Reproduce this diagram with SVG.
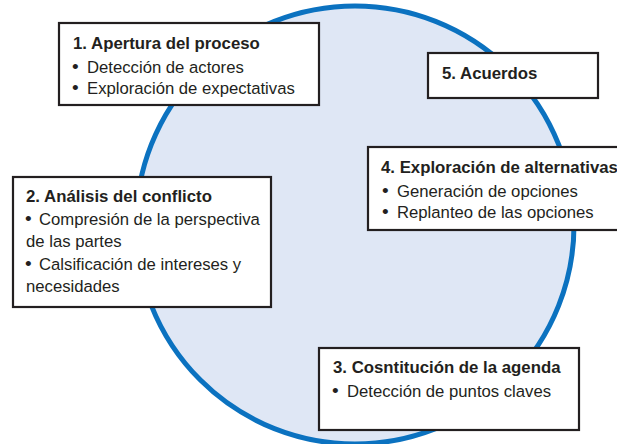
<svg xmlns="http://www.w3.org/2000/svg" width="617" height="444" viewBox="0 0 617 444">
  <style>
    .box { fill: #ffffff; stroke: #231f20; stroke-width: 2.2; }
    .title { font-family: "Liberation Sans", Arial, sans-serif; font-weight: bold; font-size: 16.8px; fill: #231f20; }
    .body { font-family: "Liberation Sans", Arial, sans-serif; font-size: 16.7px; fill: #231f20; }
    .bul { font-size: 19px; }
  </style>
  <rect x="0" y="0" width="617" height="444" fill="#ffffff"/>
  <g id="cycle">
    <circle cx="355" cy="225" r="219" fill="#dfe7f5" stroke="#0b72c0" stroke-width="5"/>
  </g>
  <g id="connectors"></g>
  <g id="node1">
    <rect class="box" x="59" y="23" width="260" height="82"/>
    <text class="title" x="73" y="49">1. Apertura del proceso</text>
    <text class="body" y="73"><tspan class="bul" x="72">•</tspan><tspan x="87">Detección de actores</tspan></text>
    <text class="body" y="94"><tspan class="bul" x="72">•</tspan><tspan x="87">Exploración de expectativas</tspan></text>
  </g>
  <g id="node2">
    <rect class="box" x="13" y="177" width="258" height="130"/>
    <text class="title" x="26" y="202">2. Análisis del conflicto</text>
    <text class="body" y="225"><tspan class="bul" x="25">•</tspan><tspan x="39">Compresión de la perspectiva</tspan></text>
    <text class="body" x="26" y="247">de las partes</text>
    <text class="body" y="270"><tspan class="bul" x="25">•</tspan><tspan x="39">Calsificación de intereses y</tspan></text>
    <text class="body" x="26" y="292">necesidades</text>
  </g>
  <g id="node3">
    <rect class="box" x="319" y="348" width="260" height="82"/>
    <text class="title" x="333" y="373">3. Cosntitución de la agenda</text>
    <text class="body" y="397"><tspan class="bul" x="332">•</tspan><tspan x="347">Detección de puntos claves</tspan></text>
  </g>
  <g id="node4">
    <rect class="box" x="368" y="147" width="262" height="83"/>
    <text class="title" x="381" y="173">4. Exploración de alternativas</text>
    <text class="body" y="197"><tspan class="bul" x="382">•</tspan><tspan x="397">Generación de opciones</tspan></text>
    <text class="body" y="218"><tspan class="bul" x="382">•</tspan><tspan x="397">Replanteo de las opciones</tspan></text>
  </g>
  <g id="node5">
    <rect class="box" x="428" y="53" width="170" height="45"/>
    <text class="title" x="442" y="79">5. Acuerdos</text>
  </g>
</svg>
